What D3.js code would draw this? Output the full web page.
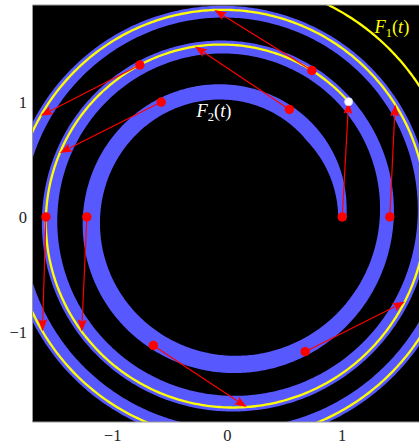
<!DOCTYPE html>
<html>
<head>
<meta charset="utf-8">
<script src="https://cdn.jsdelivr.net/npm/d3@7"></script>
<style>
  html, body { margin: 0; padding: 0; background: #fff; }
  svg { display: block; }
  text { font-family: "Liberation Serif", "DejaVu Serif", serif; }
</style>
</head>
<body>
<svg id="chart" width="419" height="445"></svg>
<script>
// Parameter values of the marked points on F2 (start of each arrow)
const f2Params = [1, 1.1667, 1.3333, 1.5, 1.6667, 1.8333, 2, 2.1667, 2.3333, 2.5];
// Spiral parameter reached by F1 at the same t (end of each arrow)
const f1Params = [2.121, 2.280, 2.442, 2.606, 2.766, 2.929, 3.094, 3.260, 3.421, 3.588];
// Parameter spans of the two drawn curves
const f2Span = [1, 4];
const f1Span = [2.121, 4.25];
// Axis ticks
const xTicks = [-1, 0, 1];
const yTicks = [-1, 0, 1];
const tickText = ["\u22121", "0", "1"];

const W = 419, H = 445;
const plot = { left: 32.5, top: 5, right: 423, bottom: 422 };

const x = d3.scaleLinear().domain([-1.7, 1.7]).range([32.3, 422.6]);
const y = d3.scaleLinear().domain([-1.785, 1.845]).range([422, 5]);

// Spiral r = sqrt(s), angle = 2*pi*s
function spiral(s, lag = 0, shift = [0, 0]) {
  const r = Math.sqrt(s - lag);
  const a = 2 * Math.PI * s;
  return [r * Math.cos(a) + shift[0], r * Math.sin(a) + shift[1]];
}

const svg = d3.select("#chart");

svg.append("defs").append("clipPath").attr("id", "plotClip")
  .append("rect")
  .attr("x", plot.left).attr("y", plot.top)
  .attr("width", plot.right - plot.left).attr("height", plot.bottom - plot.top);

// Plot background
svg.append("rect")
  .attr("x", plot.left).attr("y", plot.top)
  .attr("width", plot.right - plot.left).attr("height", plot.bottom - plot.top)
  .attr("fill", "#000");

const g = svg.append("g").attr("clip-path", "url(#plotClip)");
const line = d3.line().x(d => x(d[0])).y(d => y(d[1])).curve(d3.curveLinear);

const blue = "#5858ff";
const step = 0.002;
const f2S = d3.range(f2Span[0], f2Span[1] + step / 2, step);

// F2 ribbon: the curve itself plus trailing strokes that widen the band inward
const innerLag = 0.17, innerShift = [0.01, 0.015];
[1, 0.5, 0].forEach(frac => {
  const pts = f2S.map(s => {
    const k = frac * Math.min(1, (s - f2Span[0]) / 0.12);
    return spiral(s, innerLag * k, [innerShift[0] * k, innerShift[1] * k]);
  });
  g.append("path").attr("d", line(pts))
    .attr("fill", "none").attr("stroke", blue)
    .attr("stroke-width", 8).attr("stroke-linecap", "round").attr("stroke-linejoin", "round");
});

// F1 curve
const f1S = d3.range(f1Span[0], f1Span[1] + step / 2, step);
g.append("path").attr("d", line(f1S.map(s => spiral(s))))
  .attr("fill", "none").attr("stroke", "#ffff00")
  .attr("stroke-width", 2.3).attr("stroke-linejoin", "round");

// Arrows from F2(t) to F1(t)
const red = "#ff0000";
const pairs = f2Params.map((t, i) => ({ from: spiral(t), to: spiral(f1Params[i]) }));

pairs.forEach(p => {
  const x0 = x(p.from[0]), y0 = y(p.from[1]);
  const x1 = x(p.to[0]), y1 = y(p.to[1]);
  const dx = x1 - x0, dy = y1 - y0;
  const len = Math.hypot(dx, dy);
  const ux = dx / len, uy = dy / len;
  const headL = 12, headW = 4.5, notch = 2;
  const bx = x1 - ux * headL, by = y1 - uy * headL;
  const nx = x1 - ux * (headL - notch), ny = y1 - uy * (headL - notch);
  g.append("line")
    .attr("x1", x0).attr("y1", y0).attr("x2", nx).attr("y2", ny)
    .attr("stroke", red).attr("stroke-width", 1.2);
  g.append("path")
    .attr("d", `M${x1},${y1}L${bx - uy * headW},${by + ux * headW}L${nx},${ny}L${bx + uy * headW},${by - ux * headW}Z`)
    .attr("fill", red);
});

// Marked points on F2
g.selectAll("circle.pt").data(pairs).join("circle")
  .attr("class", "pt")
  .attr("cx", d => x(d.from[0])).attr("cy", d => y(d.from[1]))
  .attr("r", 4.7).attr("fill", red);

// Starting point of F1
const f1Start = spiral(f1Params[0]);
g.append("circle")
  .attr("cx", x(f1Start[0])).attr("cy", y(f1Start[1]))
  .attr("r", 4).attr("fill", "#fff")
  .attr("stroke", "#d8d8ff").attr("stroke-width", 0.8);

// Curve labels
function curveLabel(px, py, sub, color) {
  const t = svg.append("text").attr("x", x(px)).attr("y", y(py))
    .attr("fill", color).attr("font-size", 18.5);
  t.append("tspan").attr("font-style", "italic").text("F");
  t.append("tspan").attr("font-size", 12.5).attr("dy", 4).text(sub);
  t.append("tspan").attr("dy", -4).text("(");
  t.append("tspan").attr("font-style", "italic").text("t");
  t.append("tspan").text(")");
}
curveLabel(1.28, 1.60, "1", "#ffff00");
curveLabel(-0.27, 0.87, "2", "#ffffff");

// Frame
const frame = svg.append("g").attr("stroke", "#999").attr("stroke-width", 1).attr("fill", "none");
frame.append("line").attr("x1", plot.left).attr("x2", plot.left).attr("y1", plot.top).attr("y2", plot.bottom);
frame.append("line").attr("x1", plot.left).attr("x2", W).attr("y1", plot.top).attr("y2", plot.top);
frame.append("line").attr("x1", plot.left).attr("x2", W).attr("y1", plot.bottom).attr("y2", plot.bottom);

// Tick labels
svg.selectAll("text.xt").data(xTicks).join("text")
  .attr("class", "xt")
  .attr("x", d => x(d)).attr("y", 441)
  .attr("text-anchor", "middle").attr("font-size", 16.5).attr("fill", "#222")
  .text((d, i) => tickText[i]);
svg.selectAll("text.yt").data(yTicks).join("text")
  .attr("class", "yt")
  .attr("x", 27).attr("y", d => y(d) + 6)
  .attr("text-anchor", "end").attr("font-size", 16.5).attr("fill", "#222")
  .text((d, i) => tickText[i]);
</script>
</body>
</html>
